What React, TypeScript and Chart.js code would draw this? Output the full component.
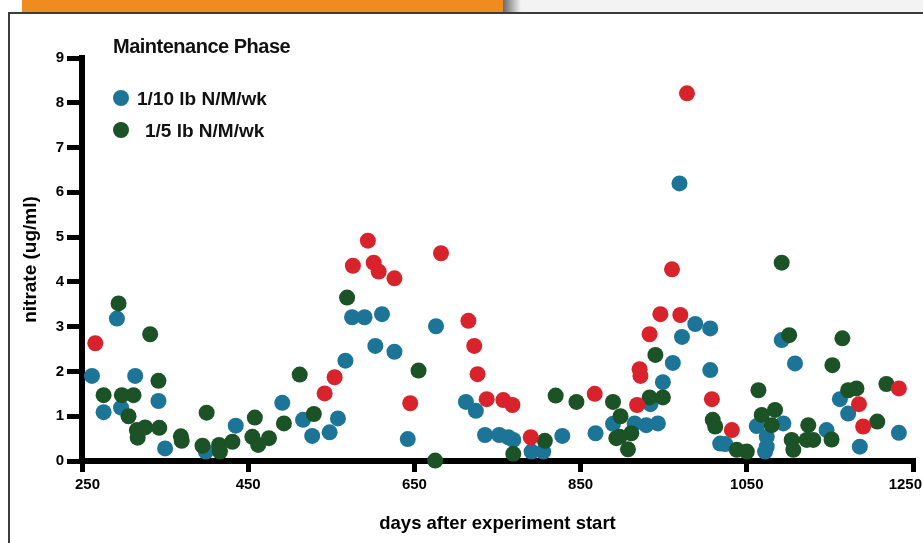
import React, { useEffect, useRef } from 'react';
import { Chart, registerables } from 'chart.js';

Chart.register(...registerables);

// ---- data ----
const xTickValues = [250, 450, 650, 850, 1050, 1250];
const yTickValues = [0, 1, 2, 3, 4, 5, 6, 7, 8, 9];

const lowRateLabel = '1/10 lb N/M/wk';
const lowRateDays = [262, 276, 292, 297, 314, 342, 350, 399, 435, 491, 516, 527, 548, 558, 567, 575, 590, 603, 611, 626, 642, 676, 712, 724, 735, 752, 763, 769, 791, 805, 828, 868, 889, 915, 929, 934, 943, 949, 961, 969, 972, 988, 1006, 1006, 1018, 1024, 1062, 1072, 1074, 1074, 1092, 1094, 1108, 1146, 1162, 1172, 1186, 1233];
const lowRateNitrate = [1.90, 1.09, 3.18, 1.19, 1.90, 1.34, 0.28, 0.21, 0.79, 1.30, 0.92, 0.56, 0.64, 0.95, 2.24, 3.21, 3.21, 2.57, 3.28, 2.44, 0.49, 3.01, 1.32, 1.12, 0.58, 0.58, 0.53, 0.47, 0.21, 0.21, 0.56, 0.62, 0.83, 0.84, 0.80, 1.27, 0.84, 1.76, 2.19, 6.20, 2.77, 3.06, 2.96, 2.03, 0.39, 0.38, 0.78, 0.21, 0.32, 0.54, 2.70, 0.84, 2.18, 0.69, 1.38, 1.06, 0.32, 0.63];

const highRateLabel = '1/5 lb N/M/wk';
const highRateDays = [276, 294, 298, 306, 312, 316, 317, 326, 332, 342, 343, 369, 370, 395, 400, 415, 416, 431, 455, 458, 462, 475, 493, 512, 529, 569, 655, 675, 769, 807, 820, 845, 889, 893, 897, 898, 907, 911, 933, 940, 949, 1009, 1012, 1038, 1050, 1064, 1068, 1080, 1084, 1092, 1101, 1104, 1106, 1122, 1124, 1130, 1152, 1153, 1165, 1172, 1182, 1207, 1218];
const highRateNitrate = [1.47, 3.52, 1.47, 1.00, 1.47, 0.69, 0.52, 0.75, 2.83, 1.79, 0.74, 0.55, 0.45, 0.34, 1.08, 0.36, 0.21, 0.43, 0.54, 0.97, 0.36, 0.51, 0.84, 1.93, 1.05, 3.65, 2.02, 0.01, 0.16, 0.45, 1.46, 1.32, 1.32, 0.51, 0.54, 1.00, 0.26, 0.62, 1.42, 2.37, 1.42, 0.92, 0.77, 0.25, 0.21, 1.58, 1.03, 0.80, 1.14, 4.43, 2.81, 0.47, 0.25, 0.47, 0.80, 0.47, 0.48, 2.14, 2.74, 1.58, 1.62, 0.88, 1.72];

const flaggedLabel = 'flagged samples';
const flaggedDays = [266, 542, 554, 576, 594, 601, 607, 626, 645, 682, 715, 722, 726, 737, 757, 768, 790, 867, 918, 921, 922, 933, 946, 960, 970, 978, 1008, 1032, 1185, 1190, 1233];
const flaggedNitrate = [2.63, 1.51, 1.87, 4.36, 4.92, 4.43, 4.23, 4.08, 1.29, 4.64, 3.13, 2.57, 1.94, 1.38, 1.36, 1.25, 0.53, 1.50, 1.25, 2.05, 1.90, 2.83, 3.28, 4.28, 3.26, 8.21, 1.38, 0.69, 1.27, 0.77, 1.62];

const chartTitle = 'Maintenance Phase';
const xTitle = 'days after experiment start';
const yTitle = 'nitrate (ug/ml)';

// ---- styles ----
const BLUE = '#1c7597';
const GREEN = '#1b5226';
const RED = '#d8232d';
const FONT = '"Liberation Sans", Arial, Helvetica, sans-serif';

const zip = (xs: number[], ys: number[]) => xs.map((x, i) => ({ x, y: ys[i] }));

// draws the x tick labels, keeping the outer ones inside the canvas
const xTickLabelPlugin = {
  id: 'xTickLabels',
  beforeDatasetsDraw(chart: any) {
    const s = chart.scales.x;
    const ctx = chart.ctx as CanvasRenderingContext2D;
    ctx.save();
    ctx.font = `bold 15px ${FONT}`;
    ctx.fillStyle = '#000';
    ctx.textAlign = 'center';
    ctx.textBaseline = 'alphabetic';
    xTickValues.forEach((v) => {
      const label = String(v);
      const w = ctx.measureText(label).width;
      let x = s.getPixelForValue(v);
      x = Math.max(x, 75 + w / 2);
      x = Math.min(x, chart.width - 1 - w / 2);
      ctx.fillText(label, x, s.top + 28);
    });
    ctx.restore();
  },
};

export default function App() {
  const canvasRef = useRef<HTMLCanvasElement>(null);

  useEffect(() => {
    document.body.style.margin = '0';
    const canvas = canvasRef.current;
    if (!canvas) return;
    const pointStyle = (color: string, order: number) => ({
      backgroundColor: color,
      borderColor: color,
      borderWidth: 0,
      pointRadius: 8,
      pointHoverRadius: 8,
      clip: false as const,
      order,
    });
    const chart = new Chart(canvas, {
      type: 'scatter',
      data: {
        datasets: [
          { label: lowRateLabel, data: zip(lowRateDays, lowRateNitrate), ...pointStyle(BLUE, 2) },
          { label: highRateLabel, data: zip(highRateDays, highRateNitrate), ...pointStyle(GREEN, 1) },
          { label: flaggedLabel, data: zip(flaggedDays, flaggedNitrate), ...pointStyle(RED, 0) },
        ],
      },
      plugins: [xTickLabelPlugin],
      options: {
        responsive: false,
        animation: false,
        devicePixelRatio: 1,
        layout: { padding: { top: 58, right: 10, bottom: 0, left: 0 } },
        plugins: {
          legend: { display: false },
          tooltip: { enabled: false },
          title: { display: false },
        },
        scales: {
          x: {
            type: 'linear',
            min: 250,
            max: 1250,
            afterBuildTicks: (scale: any) => {
              scale.ticks = xTickValues.map((v) => ({ value: v }));
            },
            afterFit: (scale: any) => {
              scale.height = 82;
              scale.paddingLeft = 0;
              scale.paddingRight = 0;
            },
            ticks: {
              display: false,
              maxRotation: 0,
            },
            grid: {
              drawOnChartArea: false,
              drawTicks: true,
              tickLength: 11,
              lineWidth: 5,
              color: '#000',
            },
            border: { display: true, width: 6, color: '#000' },
            title: {
              display: true,
              text: xTitle,
              color: '#000',
              font: { family: FONT, size: 18.5, weight: 'bold' },
              padding: { top: 0, bottom: 8 },
            },
          },
          y: {
            type: 'linear',
            min: 0,
            max: 9,
            afterBuildTicks: (scale: any) => {
              scale.ticks = yTickValues.map((v) => ({ value: v }));
            },
            afterFit: (scale: any) => {
              scale.width = 82;
            },
            ticks: {
              color: '#000',
              padding: 3,
              font: { family: FONT, size: 15, weight: 'bold' },
            },
            grid: {
              drawOnChartArea: false,
              drawTicks: true,
              tickLength: 15,
              lineWidth: 5,
              color: '#000',
            },
            border: { display: true, width: 6, color: '#000' },
            title: {
              display: true,
              text: yTitle,
              color: '#000',
              font: { family: FONT, size: 19, weight: 'bold' },
              padding: { top: 19, bottom: 0 },
            },
          },
        },
      },
    });
    return () => chart.destroy();
  }, []);

  const legendItems = [
    { label: lowRateLabel, color: BLUE, top: 98, textLeft: 137 },
    { label: highRateLabel, color: GREEN, top: 130, textLeft: 145 },
  ];

  return (
    <div style={{ position: 'fixed', left: 0, top: 0, width: 923, height: 543, overflow: 'hidden', background: '#fff' }}>
      {/* slide frame */}
      <div style={{ position: 'absolute', left: 0, top: 0, width: 923, height: 12, background: '#f3f3f3' }} />
      <div style={{ position: 'absolute', left: 0, top: 0, width: 22, height: 12, background: '#fff' }} />
      <div style={{ position: 'absolute', left: 22, top: 0, width: 481, height: 12, background: '#ef8b1f' }} />
      <div style={{ position: 'absolute', left: 503, top: 0, width: 18, height: 12, background: 'linear-gradient(to right, rgba(60,60,60,0.75), rgba(60,60,60,0))' }} />
      <div style={{ position: 'absolute', left: 8, top: 12, width: 1000, height: 1000, border: '2px solid #3c3c3c', background: '#fff', boxSizing: 'border-box' }} />

      <canvas ref={canvasRef} width={923} height={543} style={{ position: 'absolute', left: 0, top: 0, width: 923, height: 543, display: 'block' }} />

      <div style={{ position: 'absolute', left: 113, top: 46 - 10, fontFamily: FONT, fontWeight: 'bold', fontSize: 20, lineHeight: '20px', letterSpacing: '-0.5px', color: '#111', whiteSpace: 'nowrap' }}>
        {chartTitle}
      </div>
      {legendItems.map((it) => (
        <React.Fragment key={it.label}>
          <div style={{ position: 'absolute', left: 121 - 8, top: it.top - 8, width: 16, height: 16, borderRadius: '50%', background: it.color }} />
          <div style={{ position: 'absolute', left: it.textLeft, top: it.top - 9.5, fontFamily: FONT, fontWeight: 'bold', fontSize: 19, lineHeight: '19px', color: '#111', whiteSpace: 'nowrap' }}>
            {it.label}
          </div>
        </React.Fragment>
      ))}
    </div>
  );
}
